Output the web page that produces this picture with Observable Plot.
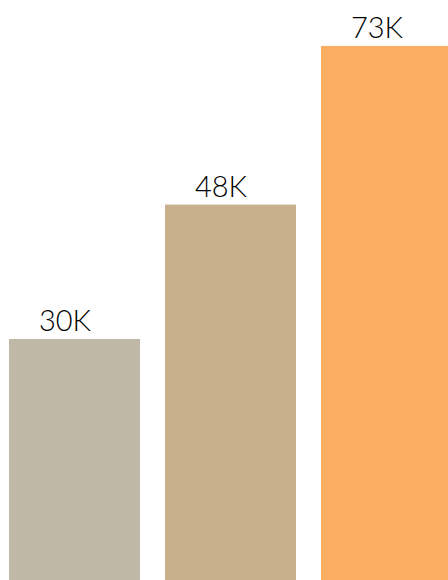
<!DOCTYPE html>
<html>
<head>
<meta charset="utf-8">
<script src="https://cdn.jsdelivr.net/npm/d3@7"></script>
<script src="https://cdn.jsdelivr.net/npm/@observablehq/plot@0.6"></script>
<style>
  html, body { margin: 0; padding: 0; background: #fff; overflow: hidden; }
  #chart { width: 448px; height: 580px; overflow: hidden; }
</style>
</head>
<body>
<div id="chart"></div>
<script>
const categories = ["A", "B", "C"];
const values = [30000, 48000, 73000];
const colors = ["#C0B9A7", "#C9B08D", "#FBAE62"];

const data = categories.map((c, i) => ({category: c, value: values[i]}));
const fmt = v => `${Math.round(v / 1000)}K`;

const chart = Plot.plot({
  width: 448,
  height: 580,
  marginTop: 45.7,
  marginBottom: 0,
  marginLeft: 8,
  marginRight: 0,
  style: {fontFamily: "Lato", background: "#fff", overflow: "hidden"},
  x: {domain: categories, range: [8, 452], paddingInner: 0.163, paddingOuter: 0, axis: null},
  y: {type: "pow", exponent: 0.635, domain: [6440, 73000], axis: null},
  color: {domain: categories, range: colors},
  marks: [
    Plot.barY(data, {x: "category", y: "value", fill: "category", clip: true}),
    Plot.text(data, {
      x: "category", y: "value", text: d => fmt(d.value),
      lineAnchor: "bottom", dy: -8, dx: -10,
      fontSize: 29, fontWeight: 300, fontFamily: "Lato", fill: "#000"
    })
  ]
});
document.getElementById("chart").append(chart);
</script>
</body>
</html>
